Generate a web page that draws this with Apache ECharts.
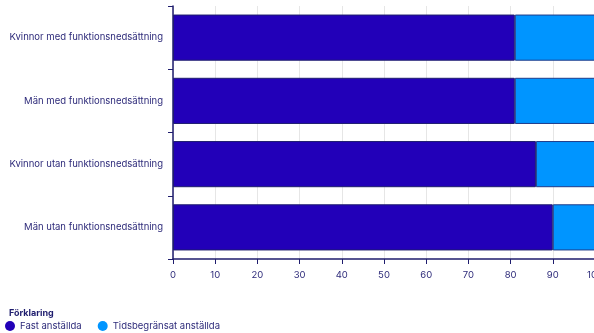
<!DOCTYPE html>
<html><head><meta charset="utf-8">
<script src="https://cdn.jsdelivr.net/npm/echarts@6/dist/echarts.min.js"></script>
<style>html,body{margin:0;padding:0;background:#fff}#c{width:594px;height:333px}</style>
</head><body><div id="c"></div>
<script>
const categories = ["Kvinnor med funktionsnedsättning","Män med funktionsnedsättning","Kvinnor utan funktionsnedsättning","Män utan funktionsnedsättning"];
const seriesNames = ["Fast anställda","Tidsbegränsat anställda"];
const fastValues = [81, 81, 86, 90];
const tidsValues = [19, 19, 14, 10];
const xTicks = [0,10,20,30,40,50,60,70,80,90,100];

const navy = '#1f1d6e';
const labelColor = '#2e2b7a';
const chart = echarts.init(document.getElementById('c'));
chart.setOption({
  animation: false,
  textStyle: { fontFamily: 'Inter' },
  title: { text: 'Förklaring', left: 4, top: 304, textStyle: { fontSize: 9, fontWeight: 'bold', color: '#1f1d6e', fontFamily: 'Inter' } },
  legend: {
    left: 0, top: 316, icon: 'circle', itemWidth: 10, itemHeight: 10, itemGap: 16,
    itemStyle: { borderWidth: 0 },
    textStyle: { fontSize: 9.5, color: labelColor, fontFamily: 'Inter' },
    data: seriesNames
  },
  grid: { left: 173, top: 6, width: 422, height: 253, containLabel: false, outerBoundsMode: 'none' },
  xAxis: {
    type: 'value', min: xTicks[0], max: xTicks[xTicks.length-1], interval: 10,
    axisLine: { show: true, lineStyle: { color: navy, width: 1.5 } },
    axisTick: { show: true, length: 5, lineStyle: { color: navy } },
    splitLine: { show: true, lineStyle: { color: '#e6e6e6' } },
    axisLabel: { color: labelColor, fontSize: 9.5, margin: 11, fontFamily: 'Inter' }
  },
  yAxis: {
    type: 'category', data: categories, inverse: true,
    axisLine: { show: true, lineStyle: { color: navy, width: 1.5 } },
    axisTick: { show: true, length: 5, lineStyle: { color: navy } },
    axisLabel: { color: labelColor, fontSize: 9.5, margin: 10, fontFamily: 'Inter' }
  },
  series: [
    { name: seriesNames[0], type: 'bar', stack: 's', data: fastValues, barCategoryGap: '27%',
      itemStyle: { color: '#2200b8', borderColor: navy, borderWidth: 1 } },
    { name: seriesNames[1], type: 'bar', stack: 's', data: tidsValues,
      itemStyle: { color: '#0095ff', borderColor: '#1f3c8a', borderWidth: 1 } }
  ]
});
</script></body></html>
